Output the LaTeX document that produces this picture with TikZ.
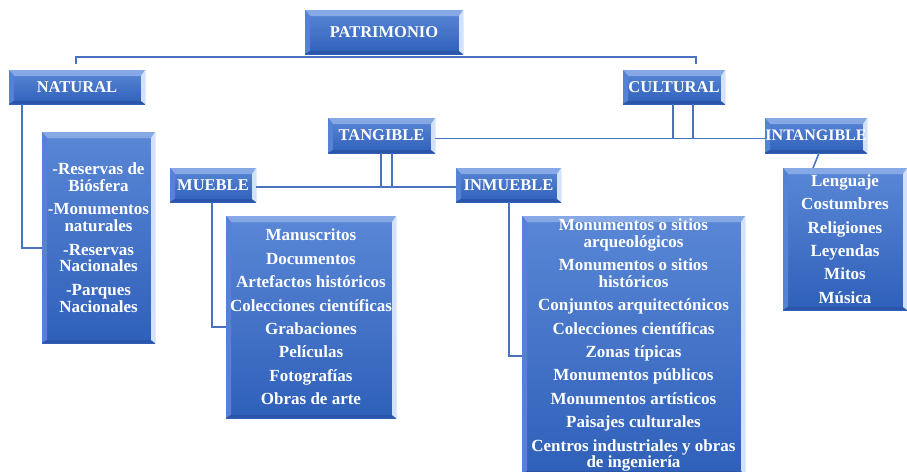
\documentclass[tikz,border=0pt]{standalone}
\usepackage{fontspec}
\setmainfont{Liberation Serif}
\usetikzlibrary{calc}
\definecolor{boxtop}{HTML}{5A87D6}
\definecolor{boxbot}{HTML}{2F60B9}
\definecolor{bevtop}{HTML}{86A9E6}
\definecolor{bevright}{HTML}{D2E2FA}
\definecolor{bevleft}{HTML}{5483D6}
\definecolor{bevbot}{HTML}{2A55A8}
\definecolor{conncol}{HTML}{4A72BE}
\tikzset{
  box/.style={anchor=north west, inner sep=0pt, outer sep=0pt,
    top color=boxtop, bottom color=boxbot, text=white, align=center,
    font=\fontsize{16.5}{16.5}\selectfont\bfseries,
    path picture={
      \coordinate (bNW) at (path picture bounding box.north west);
      \coordinate (bNE) at (path picture bounding box.north east);
      \coordinate (bSW) at (path picture bounding box.south west);
      \coordinate (bSE) at (path picture bounding box.south east);
      \fill[bevtop] (bNW) -- (bNE) -- ($(bNE)+(-4,6)$) -- ($(bNW)+(5,6)$) -- cycle;
      \fill[bevleft] (bNW) -- ($(bNW)+(5,6)$) -- ($(bSW)+(5,-3)$) -- (bSW) -- cycle;
      \fill[bevbot] (bSW) -- ($(bSW)+(5,-3)$) -- ($(bSE)+(-4,-3)$) -- (bSE) -- cycle;
      \fill[bevright] (bNE) -- ($(bNE)+(-4,6)$) -- ($(bSE)+(-4,-3)$) -- (bSE) -- cycle;
    }},
  listbox/.style={box, font=\fontsize{17}{16.8}\selectfont\bfseries},
  conn/.style={draw=conncol, line width=1.6pt}
}
\begin{document}
\begin{tikzpicture}[x=1pt,y=-1pt]
\useasboundingbox (0,0) rectangle (907,471);
\clip (0,0) rectangle (907,471);
\node[box, minimum width=158pt, minimum height=44pt] (patr) at (305,10) {PATRIMONIO};
\node[box, minimum width=136pt, minimum height=34pt] (nat) at (9,70) {NATURAL};
\node[box, minimum width=102pt, minimum height=34pt] (cult) at (623,70) {CULTURAL};
\node[box, minimum width=107pt, minimum height=35pt] (tang) at (328,118) {TANGIBLE};
\node[box, minimum width=102pt, minimum height=35pt, font=\fontsize{16}{16}\selectfont\bfseries] (intang) at (765,118) {INTANGIBLE};
\node[box, minimum width=86pt, minimum height=34pt] (mueb) at (170,168) {MUEBLE};
\node[box, minimum width=105pt, minimum height=34pt] (inmu) at (456,168) {INMUEBLE};

\draw[conn] ($(nat.north)+(-1,-6)$) |- ($(patr.south)+(0,3)$) -| ($(cult.north)+(22,-6)$);
\draw[conn] ($(tang.east)+(0,3)$) -- ($(intang.west)+(0,3)$);
\draw[conn] ($(cult.south)+(-1,0)$) -- ($(cult.south)+(-1,35)$);
\draw[conn] ($(cult.south)+(19,0)$) -- ($(cult.south)+(19,35)$);
\draw[conn] ($(mueb.east)+(0,2)$) -- ($(inmu.west)+(0,2)$);
\draw[conn] ($(tang.south)+(-0.5,0)$) -- ($(tang.south)+(-0.5,34)$);
\draw[conn] ($(tang.south)+(10.5,0)$) -- ($(tang.south)+(10.5,34)$);

\node[listbox, minimum width=113pt, minimum height=211pt] (natlist) at (42,132)
  {-Reservas de\\Biósfera\\[6.6pt]-Monumentos\\naturales\\[6.6pt]-Reservas\\Nacionales\\[6.6pt]-Parques\\Nacionales};
\node[listbox, minimum width=170pt, minimum height=202pt] (muelist) at (226,216)
  {Manuscritos\\[6.6pt]Documentos\\[6.6pt]Artefactos históricos\\[6.6pt]Colecciones científicas\\[6.6pt]Grabaciones\\[6.6pt]Películas\\[6.6pt]Fotografías\\[6.6pt]Obras de arte};
\node[listbox, minimum width=223pt, minimum height=258pt] (inmlist) at (522,216)
  {Monumentos o sitios\\arqueológicos\\[6.6pt]Monumentos o sitios\\históricos\\[6.6pt]Conjuntos arquitectónicos\\[6.6pt]Colecciones científicas\\[6.6pt]Zonas típicas\\[6.6pt]Monumentos públicos\\[6.6pt]Monumentos artísticos\\[6.6pt]Paisajes culturales\\[6.6pt]Centros industriales y obras\\de ingeniería};
\node[listbox, minimum width=124pt, minimum height=142pt] (intlist) at (783,168)
  {Lenguaje\\[6.6pt]Costumbres\\[6.6pt]Religiones\\[6.6pt]Leyendas\\[6.6pt]Mitos\\[6.6pt]Música};

\draw[conn] ($(nat.south west)+(13,0)$) |- (natlist.west |- 0,248);
\draw[conn] ($(mueb.south west)+(42,0)$) |- (muelist.west |- 0,327);
\draw[conn] ($(inmu.south west)+(53,0)$) |- (inmlist.west |- 0,356);
\draw[conn] ($(intang.south west)+(54,0)$) -- ($(intlist.north west)+(30,0)$);
\end{tikzpicture}
\end{document}
